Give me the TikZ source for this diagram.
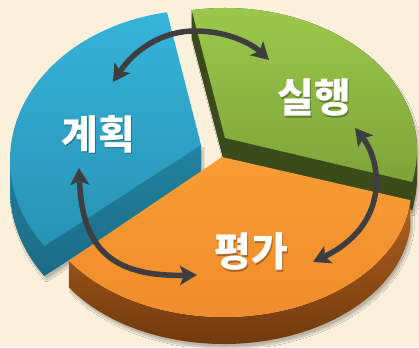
\documentclass[tikz,border=0pt]{standalone}
\usepackage{fontspec}
\newfontfamily\krfont{Noto Sans CJK KR}
\usetikzlibrary{arrows.meta,calc,shadows.blur}
\definecolor{bg}{HTML}{FAF0DC}
\definecolor{btop1}{HTML}{36B4D9}
\definecolor{btop2}{HTML}{2892B5}
\definecolor{bside1}{HTML}{2283A0}
\definecolor{bside2}{HTML}{1B6B84}
\definecolor{gtop1}{HTML}{9CC94C}
\definecolor{gtop2}{HTML}{7DA439}
\definecolor{gside}{HTML}{3A4A1A}
\definecolor{otop1}{HTML}{FA9D36}
\definecolor{otop2}{HTML}{EE8A2A}
\definecolor{oside1}{HTML}{B0611E}
\definecolor{oside2}{HTML}{6A350C}
\definecolor{arrowc}{HTML}{3E3E40}
\tikzset{
  lbl/.style={text=white, font=\krfont\bfseries\fontsize{40}{40}\selectfont, inner sep=0pt},
  lblshadow/.style={lbl, text=black, opacity=0.3},
  cyc/.style={draw=arrowc, line width=5.5pt, >={Stealth[length=17pt,width=19pt,inset=4pt]}, <->},
  pieshadow/.style={blur shadow={shadow xshift=2pt, shadow yshift=-4pt, shadow blur steps=10, shadow opacity=25}}
}
\begin{document}
\begin{tikzpicture}[x=1pt,y=1pt]
\fill[bg] (0,0) rectangle (419,347);
\useasboundingbox (0,0) rectangle (419,347);

\coordinate (Bapex) at (201,202);
\coordinate (Bc) at (200,187);
\coordinate (Gapex) at (225,209);
\coordinate (Gc) at (225,197);
\coordinate (Oapex) at (222,190);
\coordinate (Oc) at (224,158);

% green slice (back right)
\fill[gside, pieshadow] ($(Gc)+(100:192pt and 142pt)$) -- ++(0,-28) -- ($(Gapex)+(0,-28)$)
  -- ($(Gc)+(-13:192pt and 142pt)+(0,-28)$) arc[start angle=-13,end angle=0,x radius=192pt,y radius=142pt]
  -- ++(0,28) arc[start angle=0,end angle=100,x radius=192pt,y radius=142pt] -- cycle;
\shade[top color=gtop1, bottom color=gtop2] (Gapex) -- ($(Gc)+(-13:192pt and 142pt)$)
  arc[start angle=-13,end angle=100,x radius=192pt,y radius=142pt] -- cycle;

% blue slice (back left)
\shade[top color=bside1, bottom color=bside2, pieshadow] (Bapex) -- ++(0,-30)
  -- ($(Bc)+(215:190pt and 150pt)+(0,-30)$) arc[start angle=215,end angle=180,x radius=190pt,y radius=150pt]
  -- ++(0,30) -- cycle;
\shade[top color=btop1, bottom color=btop2] (Bapex) -- ($(Bc)+(100:190pt and 150pt)$)
  arc[start angle=100,end angle=215,x radius=190pt,y radius=150pt] -- cycle;

% orange slice (front)
\shade[top color=oside1, bottom color=oside2, pieshadow] ($(Oc)+(214:187pt and 128pt)$) -- ++(0,-27)
  arc[start angle=214,end angle=355,x radius=187pt,y radius=128pt]
  -- ++(0,27) arc[start angle=355,end angle=214,x radius=187pt,y radius=128pt] -- cycle;
\shade[top color=otop1, bottom color=otop2] (Oapex) -- ($(Oc)+(214:187pt and 128pt)$)
  arc[start angle=214,end angle=355,x radius=187pt,y radius=128pt] -- cycle;

% labels
\node[lblshadow] (t1s) at (99.5,211.5) {계획};
\node[lbl] (t1) at (98,213) {계획};
\node[lblshadow] (t2s) at (315.5,247.5) {실행};
\node[lbl] (t2) at (314,249) {실행};
\node[lblshadow] (t3s) at (252.5,93.5) {평가};
\node[lbl] (t3) at (251,95) {평가};

% cycle arrows
\coordinate (a1s) at (113,265);
\coordinate (a1p) at (195,316);
\coordinate (a1e) at (269,287);
\draw[cyc] (a1s) .. controls (133,295) and (160,316) .. (a1p) .. controls (228,316) and (252,303) .. (a1e);

\coordinate (a2s) at (79,179);
\coordinate (a2e) at (197,72);
\draw[cyc] (a2s) .. controls (82,100) and (110,70) .. (a2e);

\coordinate (a3s) at (355,219);
\coordinate (a3e) at (313,85);
\draw[cyc] (a3s) .. controls (382,185) and (390,122) .. (a3e);
\end{tikzpicture}
\end{document}
